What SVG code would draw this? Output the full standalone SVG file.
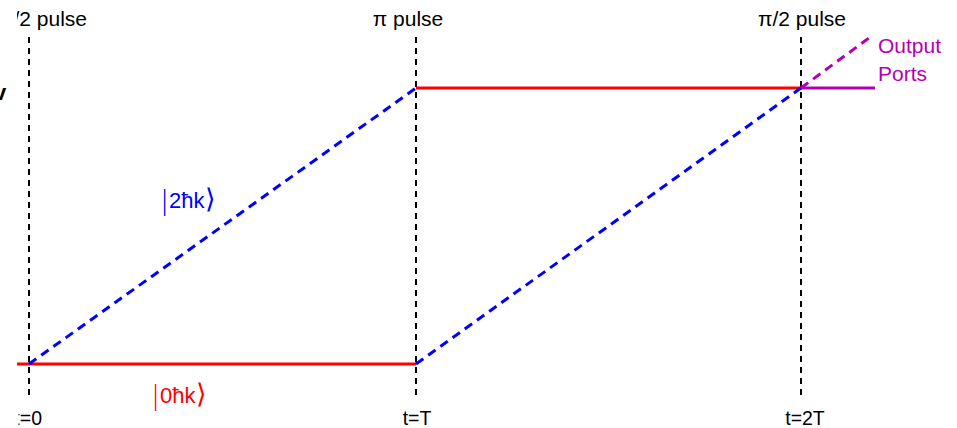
<svg xmlns="http://www.w3.org/2000/svg" width="957" height="428" viewBox="0 0 957 428">
<style>
.lbl{font-family:"Liberation Sans","Open Sans",sans-serif;font-size:21px;fill:#000}
.tl{font-family:"Liberation Sans","Open Sans",sans-serif;font-size:19.5px;fill:#000}
.mid{text-anchor:middle}
.vert{stroke:#000;stroke-width:2;stroke-dasharray:6 5;fill:none}
.red{stroke:#ff0000;stroke-width:3;fill:none}
.blue{stroke:#0000ff;stroke-width:3;stroke-dasharray:9 6;fill:none}
.purp{stroke:#b400b4;stroke-width:3;fill:none}
.ket{font-family:"Liberation Sans","DejaVu Sans",sans-serif;font-size:22px}
.br{font-family:"DejaVu Sans",sans-serif;font-size:27px;font-weight:300}
</style>
<defs>
<clipPath id="crop"><rect x="17" y="0" width="940" height="428"/></clipPath>
<clipPath id="crop2"><rect x="18.5" y="0" width="940" height="428"/></clipPath>
</defs>
<rect width="957" height="428" fill="#fff"/>
<g id="connectors">
<line class="vert" x1="29" y1="37" x2="29" y2="400"/>
<line class="vert" x1="416" y1="37" x2="416" y2="400"/>
<line class="vert" x1="801" y1="37" x2="801" y2="400"/>
<line class="red" x1="17" y1="364" x2="416" y2="364"/>
<line class="red" x1="416" y1="88" x2="801" y2="88"/>
<line class="blue" x1="29" y1="364" x2="416" y2="88"/>
<line class="blue" x1="416" y1="364" x2="801" y2="88"/>
<line class="purp" x1="801" y1="88" x2="875" y2="88"/>
<line class="purp" x1="801" y1="88" x2="873" y2="35" stroke-dasharray="9 6"/>
</g>
<g id="pulse-labels">
<g clip-path="url(#crop)"><text class="lbl" x="87" y="26" text-anchor="end">π/2 pulse</text></g>
<text class="lbl mid" x="408" y="26">π pulse</text>
<text class="lbl mid" x="802" y="26">π/2 pulse</text>
</g>
<g id="time-labels">
<g clip-path="url(#crop2)"><text class="tl" x="42" y="425" text-anchor="end">t=0</text></g>
<text class="tl mid" x="417" y="425">t=T</text>
<text class="tl mid" x="805" y="425">t=2T</text>
</g>
<g id="state-2hk"><text class="ket" x="160" y="208" fill="#0000ff"><tspan class="br" dy="1">|</tspan><tspan dy="-1">2ħk</tspan><tspan class="br" dy="0">⟩</tspan></text></g>
<g id="state-0hk"><text class="ket" x="151" y="403" fill="#ff0000"><tspan class="br" dy="1">|</tspan><tspan dy="-1">0ħk</tspan><tspan class="br">⟩</tspan></text></g>
<g id="output-ports">
<text class="lbl" x="878" y="53" style="fill:#b400b4">Output</text>
<text class="lbl" x="878" y="81" style="fill:#b400b4">Ports</text>
</g>
<g id="edge-mark"><text x="-6" y="100" style="font-family:'Liberation Sans',sans-serif;font-size:22px;font-weight:bold">v</text></g>
</svg>
